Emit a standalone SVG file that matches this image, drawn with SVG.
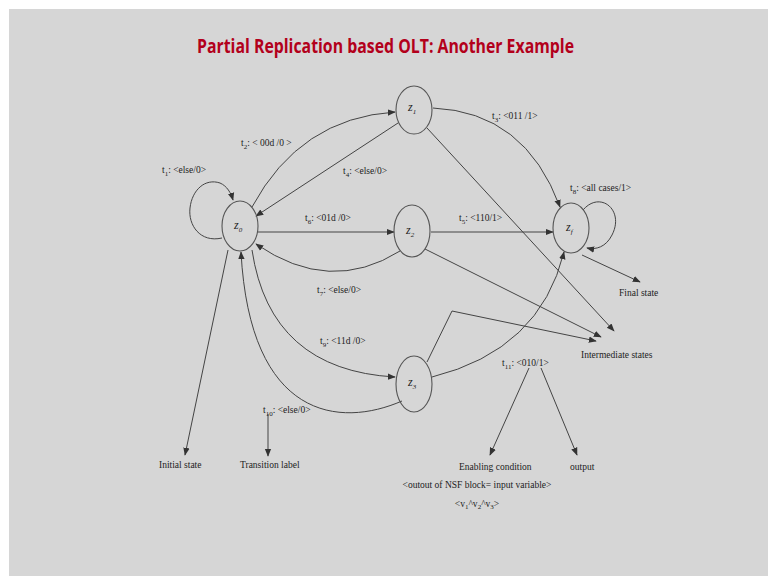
<svg xmlns="http://www.w3.org/2000/svg" width="768" height="576" viewBox="0 0 768 576">
<defs>
<marker id="ah" viewBox="0 0 10 10" refX="9" refY="5" markerWidth="8" markerHeight="8" markerUnits="userSpaceOnUse" orient="auto">
<path d="M0,1 L10,5 L0,9 z" fill="#333"/>
</marker>
</defs>
<style>
.st{fill:none;stroke:#555;stroke-width:1.1}
.ed{fill:none;stroke:#444;stroke-width:1;marker-end:url(#ah)}
.lb{font-family:"Liberation Serif","Times New Roman",serif;font-size:9.5px;fill:#222}
.zl{font-family:"Liberation Serif","Times New Roman",serif;font-size:12px;font-style:italic;fill:#222}
.sb{font-size:7px}
.title{font-family:"Open Sans","Liberation Sans",sans-serif;font-weight:bold;font-size:20px;fill:#b3001b}
</style>
<rect x="0" y="0" width="768" height="576" fill="#ffffff"/>
<rect x="9" y="9" width="759" height="567" fill="#d6d6d6"/>
<text class="title" x="197" y="53" textLength="377" lengthAdjust="spacingAndGlyphs">Partial Replication based OLT: Another Example</text>

<g id="connectors">
<path id="e-t1" class="ed" d="M222,238 C200,243 188,225 190,208 C192,190 205,178 220,183 C227,186 231,193 233,200"/>
<path id="e-t2" class="ed" d="M252,207 Q300,118 395,112"/>
<path id="e-t4" class="ed" d="M398,123 L256,216"/>
<path id="e-t6" class="ed" d="M258,232 L394,232"/>
<path id="e-t7" class="ed" d="M400,251 Q330,295 256,244"/>
<path id="e-t3" class="ed" d="M433,108 Q525,112 560,207"/>
<path id="e-t5" class="ed" d="M431,232 L553,232"/>
<path id="e-t8" class="ed" d="M583,210 C600,190 625,210 612,235 C606,247 596,250 587,248"/>
<path id="e-t9" class="ed" d="M252,250 Q270,370 395,377"/>
<path id="e-t10" class="ed" d="M402,401 C340,428 250,420 241,252"/>
<path id="e-t11" class="ed" d="M432,377 Q540,350 564,252"/>
<path id="a-int1" class="ed" d="M427,128 L614,331"/>
<path id="a-int2" class="ed" d="M425,249 L601,337"/>
<path id="a-int3" class="ed" d="M427,362 L452,311 L596,341"/>
<path id="a-final" class="ed" d="M582,255 L640,282"/>
<path id="a-initial" class="ed" d="M228,250 L185,455"/>
<path id="a-tlabel" class="ed" d="M268,414 L268,456"/>
<path id="a-enable" class="ed" d="M529,368 L490,455"/>
<path id="a-output" class="ed" d="M541,368 L577,455"/>
</g>

<g id="z0"><ellipse class="st" cx="240" cy="226" rx="18" ry="25"/><text class="zl" x="234" y="229">z<tspan class="sb" dy="3">0</tspan></text></g>
<g id="z1"><ellipse class="st" cx="414" cy="110" rx="18" ry="24"/><text class="zl" x="408" y="111">z<tspan class="sb" dy="3">1</tspan></text></g>
<g id="z2"><ellipse class="st" cx="412" cy="231" rx="18" ry="26"/><text class="zl" x="406" y="234">z<tspan class="sb" dy="3">2</tspan></text></g>
<g id="z3"><ellipse class="st" cx="414" cy="384" rx="18" ry="28"/><text class="zl" x="408" y="386">z<tspan class="sb" dy="3">3</tspan></text></g>
<g id="zf"><ellipse class="st" cx="571" cy="228" rx="18" ry="25"/><text class="zl" x="566" y="231">z<tspan class="sb" dy="3">f</tspan></text></g>

<g id="labels">
<text class="lb" x="162" y="173">t<tspan class="sb" dy="3">1</tspan><tspan dy="-3">: &lt;else/0&gt;</tspan></text>
<text class="lb" x="241" y="146">t<tspan class="sb" dy="3">2</tspan><tspan dy="-3">: &lt; 00d /0 &gt;</tspan></text>
<text class="lb" x="343" y="174">t<tspan class="sb" dy="3">4</tspan><tspan dy="-3">: &lt;else/0&gt;</tspan></text>
<text class="lb" x="305" y="221">t<tspan class="sb" dy="3">6</tspan><tspan dy="-3">: &lt;01d /0&gt;</tspan></text>
<text class="lb" x="492" y="119">t<tspan class="sb" dy="3">3</tspan><tspan dy="-3">: &lt;011 /1&gt;</tspan></text>
<text class="lb" x="570" y="191">t<tspan class="sb" dy="3">8</tspan><tspan dy="-3">: &lt;all cases/1&gt;</tspan></text>
<text class="lb" x="459" y="221">t<tspan class="sb" dy="3">5</tspan><tspan dy="-3">: &lt;110/1&gt;</tspan></text>
<text class="lb" x="317" y="293">t<tspan class="sb" dy="3">7</tspan><tspan dy="-3">: &lt;else/0&gt;</tspan></text>
<text class="lb" x="320" y="344">t<tspan class="sb" dy="3">9</tspan><tspan dy="-3">: &lt;11d /0&gt;</tspan></text>
<text class="lb" x="263" y="413">t<tspan class="sb" dy="3">10</tspan><tspan dy="-3">: &lt;else/0&gt;</tspan></text>
<text class="lb" x="502" y="366">t<tspan class="sb" dy="3">11</tspan><tspan dy="-3">: &lt;010/1&gt;</tspan></text>
<text class="lb" x="619" y="296" font-size="9">Final state</text>
<text class="lb" x="581" y="358" font-size="9">Intermediate states</text>
<text class="lb" x="159" y="468" font-size="9">Initial state</text>
<text class="lb" x="240" y="468" font-size="9">Transition label</text>
<text class="lb" x="459" y="470" font-size="9">Enabling condition</text>
<text class="lb" x="570" y="470" font-size="9">output</text>
<text class="lb" x="477" y="488" font-size="8.5" text-anchor="middle">&lt;outout of NSF block= input variable&gt;</text>
<text class="lb" x="477" y="507" font-size="8.5" text-anchor="middle">&lt;v<tspan class="sb" dy="2">1</tspan><tspan dy="-2">^v</tspan><tspan class="sb" dy="2">2</tspan><tspan dy="-2">^v</tspan><tspan class="sb" dy="2">3</tspan><tspan dy="-2">&gt;</tspan></text>
</g>
</svg>
